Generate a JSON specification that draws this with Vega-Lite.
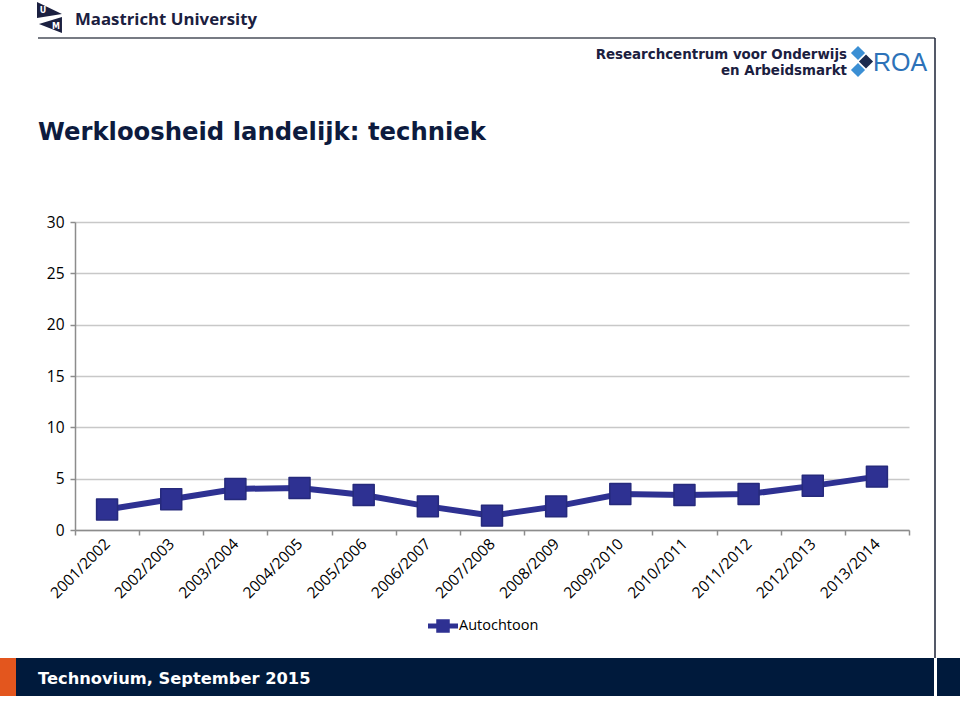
{
  "$schema": "https://vega.github.io/schema/vega-lite/v6.json",
  "width": 834,
  "height": 308,
  "autosize": {"type": "none"},
  "padding": {"left": 75, "top": 222, "right": 51, "bottom": 171},
  "background": "white",
  "config": {
    "view": {"stroke": null}
  },
  "data": {
    "values": [
      {"jaar": "2001/2002", "waarde": 2.0, "groep": "Autochtoon"},
      {"jaar": "2002/2003", "waarde": 3.0, "groep": "Autochtoon"},
      {"jaar": "2003/2004", "waarde": 4.0, "groep": "Autochtoon"},
      {"jaar": "2004/2005", "waarde": 4.1, "groep": "Autochtoon"},
      {"jaar": "2005/2006", "waarde": 3.4, "groep": "Autochtoon"},
      {"jaar": "2006/2007", "waarde": 2.3, "groep": "Autochtoon"},
      {"jaar": "2007/2008", "waarde": 1.4, "groep": "Autochtoon"},
      {"jaar": "2008/2009", "waarde": 2.3, "groep": "Autochtoon"},
      {"jaar": "2009/2010", "waarde": 3.5, "groep": "Autochtoon"},
      {"jaar": "2010/2011", "waarde": 3.4, "groep": "Autochtoon"},
      {"jaar": "2011/2012", "waarde": 3.5, "groep": "Autochtoon"},
      {"jaar": "2012/2013", "waarde": 4.3, "groep": "Autochtoon"},
      {"jaar": "2013/2014", "waarde": 5.2, "groep": "Autochtoon"}
    ]
  },
  "layer": [
    {
      "mark": {"type": "line", "color": "#2e3192", "strokeWidth": 6},
      "encoding": {
        "x": {
          "field": "jaar", "type": "nominal", "sort": null,
          "scale": {"type": "band", "paddingInner": 0, "paddingOuter": 0},
          "axis": {
            "title": null, "labelAngle": -45, "labelAlign": "right", "labelBaseline": "middle",
            "labelFont": "Open Sans", "labelFontSize": 15.5, "labelColor": "#000000",
            "labelPadding": 6, "labelDx": 4, "tickBand": "extent", "tickSize": 5,
            "domainColor": "#8c8c8c", "tickColor": "#8c8c8c", "domainWidth": 1.5, "tickWidth": 1.5, "grid": false
          }
        },
        "y": {
          "field": "waarde", "type": "quantitative",
          "scale": {"domain": [0, 30], "nice": false},
          "axis": {
            "title": null, "values": [0, 5, 10, 15, 20, 25, 30], "tickSize": 5, "labelPadding": 6,
            "labelFont": "Open Sans", "labelFontSize": 15.5, "labelColor": "#000000",
            "domainColor": "#8c8c8c", "tickColor": "#8c8c8c", "domainWidth": 1.5, "tickWidth": 1.5,
            "gridColor": "#c8c8c8", "gridWidth": 1.5
          }
        }
      }
    },
    {
      "mark": {"type": "point", "shape": "square", "filled": true, "size": 440, "opacity": 1, "stroke": "#262a7c", "strokeWidth": 1.5, "strokeJoin": "round"},
      "encoding": {
        "x": {"field": "jaar", "type": "nominal", "sort": null},
        "y": {"field": "waarde", "type": "quantitative"},
        "color": {
          "field": "groep", "type": "nominal",
          "scale": {"range": ["#2e3192"]},
          "legend": {
            "title": null, "orient": "none", "legendX": 353, "legendY": 389,
            "symbolType": "M-1,-0.17H1V0.17H-1Z M-0.45,-0.45H0.45V0.45H-0.45Z",
            "symbolSize": 900, "symbolStrokeWidth": 0, "symbolFillColor": "#2e3192",
            "labelFont": "Open Sans", "labelFontSize": 14.5, "labelColor": "#000000", "labelOffset": 1
          }
        }
      }
    },
    {
      "data": {"values": [{"t": "Werkloosheid landelijk: techniek"}]},
      "mark": {"type": "text", "align": "left", "baseline": "alphabetic", "font": "DejaVu Sans", "fontWeight": "bold", "fontSize": 24.3, "color": "#0d1b3e"},
      "encoding": {"x": {"value": -37}, "y": {"value": -82}, "text": {"field": "t"}}
    },
    {
      "data": {"values": [{}]},
      "mark": {"type": "rule", "color": "#4a4f5a", "strokeWidth": 1.5},
      "encoding": {"x": {"value": -37}, "x2": {"value": 860}, "y": {"value": -184}, "y2": {"value": -184}}
    },
    {
      "data": {"values": [{}]},
      "mark": {"type": "rule", "color": "#1b2236", "strokeWidth": 1.5},
      "encoding": {"x": {"value": 860}, "x2": {"value": 860}, "y": {"value": -184}, "y2": {"value": 436}}
    },
    {
      "data": {"values": [{}]},
      "mark": {"type": "rect", "color": "#e3561e"},
      "encoding": {"x": {"value": -75}, "x2": {"value": -59}, "y": {"value": 436}, "y2": {"value": 474}}
    },
    {
      "data": {"values": [{}]},
      "mark": {"type": "rect", "color": "#001a3c"},
      "encoding": {"x": {"value": -59}, "x2": {"value": 859}, "y": {"value": 436}, "y2": {"value": 474}}
    },
    {
      "data": {"values": [{}]},
      "mark": {"type": "rect", "color": "#001a3c"},
      "encoding": {"x": {"value": 862}, "x2": {"value": 885}, "y": {"value": 436}, "y2": {"value": 474}}
    },
    {
      "data": {"values": [{"t": "Technovium, September 2015"}]},
      "mark": {"type": "text", "align": "left", "baseline": "alphabetic", "font": "DejaVu Sans", "fontWeight": "bold", "fontSize": 16.3, "color": "#ffffff"},
      "encoding": {"x": {"value": -37}, "y": {"value": 462}, "text": {"field": "t"}}
    },
    {
      "data": {"values": [{"t": "Maastricht University"}]},
      "mark": {"type": "text", "align": "left", "baseline": "alphabetic", "font": "Open Sans", "fontWeight": "bold", "fontSize": 16.8, "color": "#1b2040"},
      "encoding": {"x": {"value": 0}, "y": {"value": -197}, "text": {"field": "t"}}
    },
    {
      "data": {"values": [{}]},
      "mark": {"type": "point", "shape": "M-1,-1.15L0.92,-0.23L-1,0.08Z M0.92,0L0.92,1.23L-0.85,0.54Z", "size": 676, "filled": true, "opacity": 1, "color": "#1b2040"},
      "encoding": {"x": {"value": -25}, "y": {"value": -205}}
    },
    {
      "data": {"values": [{"t": "U", "dx": -32, "dy": -211}, {"t": "M", "dx": -19, "dy": -195}]},
      "mark": {"type": "text", "font": "DejaVu Sans", "fontWeight": "bold", "fontSize": 8, "color": "#ffffff"},
      "encoding": {"x": {"field": "dx", "type": "quantitative", "scale": null}, "y": {"field": "dy", "type": "quantitative", "scale": null}, "text": {"field": "t"}}
    },
    {
      "data": {"values": [{"t": "Researchcentrum voor Onderwijs"}]},
      "mark": {"type": "text", "align": "right", "baseline": "alphabetic", "font": "DejaVu Sans", "fontWeight": "bold", "fontSize": 13.4, "color": "#1b2040"},
      "encoding": {"x": {"value": 772}, "y": {"value": -163}, "text": {"field": "t"}}
    },
    {
      "data": {"values": [{"t": "en Arbeidsmarkt"}]},
      "mark": {"type": "text", "align": "right", "baseline": "alphabetic", "font": "DejaVu Sans", "fontWeight": "bold", "fontSize": 13.4, "color": "#1b2040"},
      "encoding": {"x": {"value": 772}, "y": {"value": -147}, "text": {"field": "t"}}
    },
    {
      "data": {"values": [{}]},
      "mark": {"type": "point", "shape": "diamond", "size": 200, "filled": true, "opacity": 1, "color": "#3b8fd4"},
      "encoding": {"x": {"value": 783}, "y": {"value": -169}}
    },
    {
      "data": {"values": [{}]},
      "mark": {"type": "point", "shape": "diamond", "size": 200, "filled": true, "opacity": 1, "color": "#3b8fd4"},
      "encoding": {"x": {"value": 783}, "y": {"value": -152}}
    },
    {
      "data": {"values": [{}]},
      "mark": {"type": "point", "shape": "diamond", "size": 200, "filled": true, "opacity": 1, "color": "#1b2a4e"},
      "encoding": {"x": {"value": 791}, "y": {"value": -160.5}}
    },
    {
      "data": {"values": [{"t": "ROA"}]},
      "mark": {"type": "text", "align": "left", "baseline": "alphabetic", "font": "Liberation Sans", "fontSize": 25, "color": "#2d72b8"},
      "encoding": {"x": {"value": 798}, "y": {"value": -151}, "text": {"field": "t"}}
    }
  ]
}
